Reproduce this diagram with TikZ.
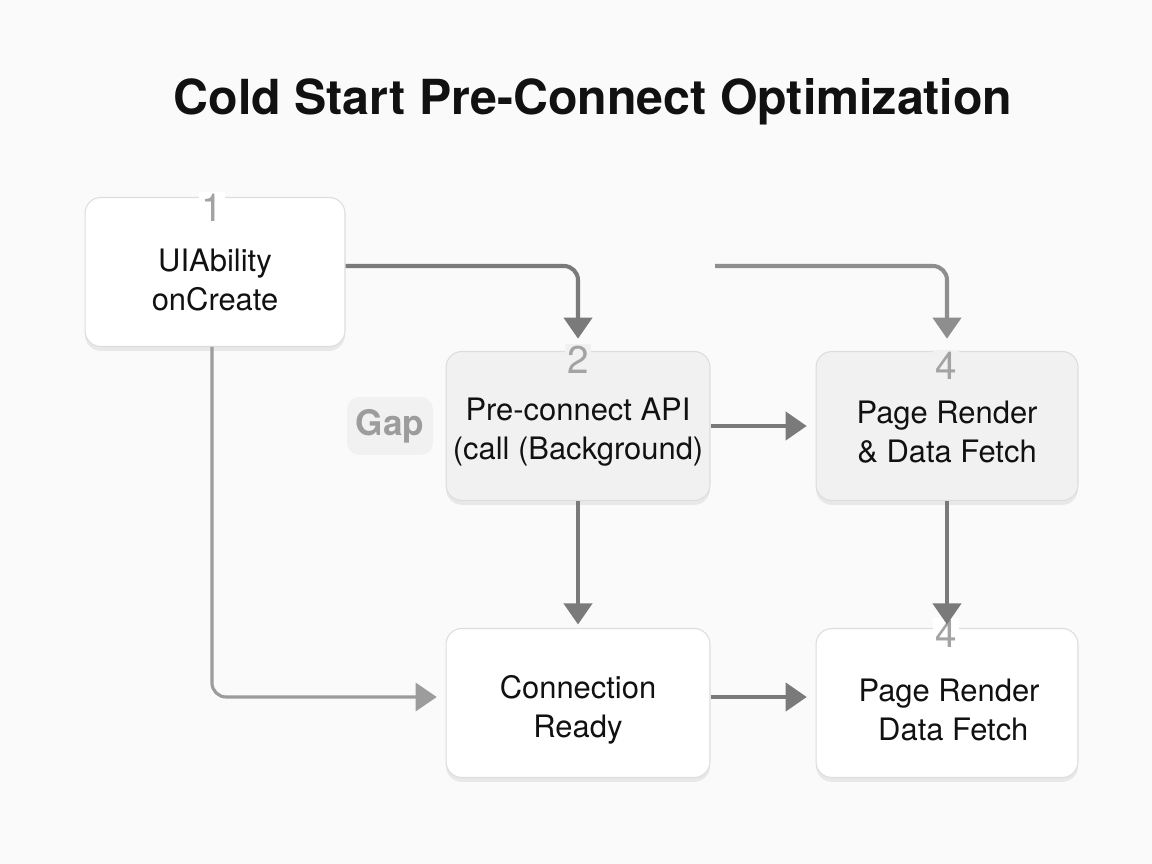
\documentclass[tikz,border=0pt]{standalone}
\usepackage{fontspec}
\setmainfont{TeX Gyre Heros}
\usetikzlibrary{arrows.meta,shadows,positioning}
\definecolor{bgc}{HTML}{FAFAFA}
\definecolor{boxline}{HTML}{DDDDDD}
\definecolor{greybox}{HTML}{F1F1F1}
\definecolor{arrowc}{HTML}{7A7A7A}
\definecolor{arrowl}{HTML}{9C9C9C}
\definecolor{numc}{HTML}{A3A3A3}
\definecolor{txt}{HTML}{111111}
\tikzset{
  card/.style={draw=boxline, line width=0.6pt, rounded corners=9pt,
    minimum width=#1, minimum height=2.98cm,
    drop shadow={shadow xshift=0pt, shadow yshift=-2.5pt, opacity=0.07, fill=black}},
  whitecard/.style={card=#1, fill=white},
  greycard/.style={card=#1, fill=greybox},
  cardtext/.style={align=center, text=txt, font=\fontsize{17.6}{22.5}\selectfont},
  stepnum/.style={text=numc, font=\fontsize{22}{22}\selectfont, inner sep=1.5pt},
  flow/.style={draw=arrowc, line width=2.3pt, rounded corners=8pt,
    -{Triangle[width=16pt,length=12pt]}},
  flowlight/.style={draw=arrowl, line width=1.8pt, rounded corners=8pt,
    -{Triangle[width=16pt,length=12pt]}},
}
\begin{document}
\begin{tikzpicture}[x=0.02cm,y=-0.02cm]
\fill[bgc] (0,0) rectangle (1152,864);
\useasboundingbox (0,0) rectangle (1152,864);

\node[anchor=base, text=txt, font=\fontsize{27.5}{30}\bfseries\selectfont] (title) at (593,115) {Cold Start Pre-Connect Optimization};

\node[whitecard=5.2cm] (b1) at (215,272) {};
\node[greycard=5.28cm] (b2) at (578,426) {};
\node[greycard=5.24cm] (b4a) at (947,426) {};
\node[whitecard=5.28cm] (b3) at (578,703) {};
\node[whitecard=5.24cm] (b4b) at (947,703) {};

\node[cardtext] (t1) at (215,280) {UIAbility\\onCreate};
\node[cardtext] (t2) at (578,432) {Pre-connect API\\(call (Background)};
\node[cardtext] (t4a) at (947,432) {Page Render\\\& Data Fetch};
\node[cardtext] (t3) at (578,710) {Connection\\Ready};
\node[cardtext] (t4b) at (949,710) {Page Render\\\phantom{.}Data Fetch};

\node[fill=greybox, rounded corners=7pt, minimum width=1.72cm, minimum height=1.16cm,
  text=arrowl, font=\fontsize{20}{20}\bfseries\selectfont] (gap) at (390,426) {Gap};

\node[stepnum, fill=white] (n1) at (212,208) {1};
\node[stepnum, fill=greybox] (n2) at (578,360) {2};
\node[stepnum, fill=greybox] (n4a) at (946,366) {4};
\node[stepnum, fill=white] (n4b) at (946,634) {4};

\coordinate (s1) at (212,347);
\coordinate (s2) at (715,266);

\draw[flowlight, shorten >=5pt] (s1) |- ([yshift=0.12cm]b3.west);
\draw[flow, shorten >=7pt] ([yshift=0.12cm]b1.east) -| (b2.north);
\draw[flow, draw=arrowc!85, shorten >=7pt] (s2) -| (b4a.north);
\draw[flow, shorten >=5pt] (b2.east) -- (b4a.west);
\draw[flow, shorten >=2pt] (b2.south) -- (b3.north);
\draw[flow, shorten >=5pt] ([yshift=0.12cm]b3.east) -- ([yshift=0.12cm]b4b.west);
\draw[flow, shorten >=2pt] (b4a.south) -- (b4b.north);
\end{tikzpicture}
\end{document}
